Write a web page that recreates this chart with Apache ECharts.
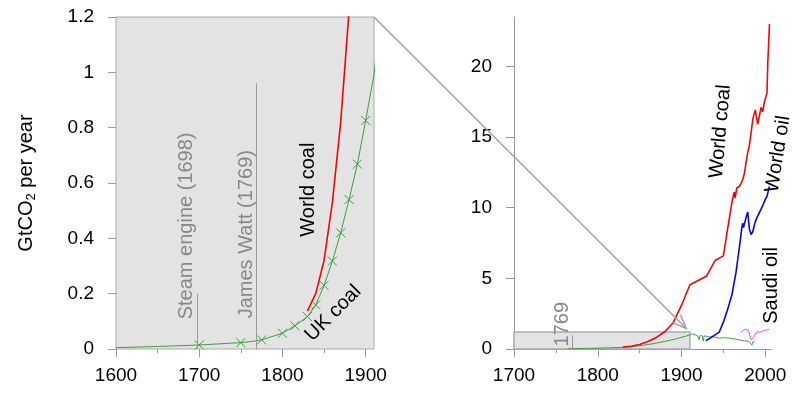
<!DOCTYPE html>
<html>
<head>
<meta charset="utf-8">
<title>Coal and oil CO2</title>
<script src="https://cdn.jsdelivr.net/npm/echarts@6/dist/echarts.min.js"></script>
<style>html,body{margin:0;background:#fff}#main{width:800px;height:399px}</style>
</head>
<body>
<div id="main"></div>
<script>
// GtCO2 per year
var ukYears = [1600,1650,1700,1750,1765,1775,1800,1815,1830,1840,1850,1860,1870,1880,1890,1900,1905,1910,1913,1915,1919,1920,1921,1922,1923,1925,1926,1927,1930,1935,1940,1945,1950,1955,1960,1965,1970,1975,1980,1982,1984,1985,1987];
var ukCoal  = [0.005,0.009,0.0145,0.023,0.028,0.033,0.057,0.084,0.117,0.159,0.23,0.318,0.42,0.54,0.668,0.826,0.91,0.99,1.08,1.0,0.93,0.97,0.66,0.95,1.0,0.92,0.55,0.93,0.9,0.84,0.85,0.76,0.8,0.79,0.74,0.7,0.63,0.57,0.56,0.52,0.27,0.5,0.5];
var ukMarked = [1700,1750,1775,1800,1815,1830,1840,1850,1860,1870,1880,1890,1900];

var coalYears = [1830,1840,1850,1860,1870,1880,1890,1900,1910,1920,1930,1940,1950,1955,1960,1962,1963,1964,1966,1969,1971,1973,1975,1977,1979,1981,1983,1985,1986,1988,1991,1992,1995,1997,1999,2001,2002,2003,2004,2005];
var worldCoal = [0.137,0.2,0.32,0.53,0.82,1.22,1.85,3.1,4.55,4.85,5.17,6.26,6.59,8.5,10.3,10.9,11.1,10.7,11.4,11.5,11.7,12.0,12.4,13.2,13.9,14.4,15.3,16.2,16.5,16.9,15.9,16.2,17.1,16.8,17.5,17.9,18.1,20.3,21.6,23.0];

var oilYears = [1929,1935,1940,1945,1950,1955,1960,1965,1967,1970,1972,1973,1974,1975,1977,1979,1981,1983,1985,1988,1990,1992,1995,1998,2000,2002,2004,2005];
var worldOil = [0.59,0.8,1.0,1.2,1.9,2.8,3.8,5.4,6.3,7.6,8.6,8.9,8.6,8.5,9.3,9.7,8.5,8.1,8.3,9.0,9.3,9.4,9.9,10.3,10.6,10.8,11.3,11.5];

var saudiYears = [1971,1973,1974,1976,1978,1980,1981,1982,1983,1985,1986,1988,1990,1992,1994,1996,1998,2000,2002,2004,2005];
var saudiOil = [1.15,1.3,1.25,1.4,1.35,1.3,1.2,0.85,0.65,0.6,0.8,1.05,1.2,1.25,1.2,1.25,1.3,1.28,1.35,1.38,1.4];

var eventYears = [1698, 1769];
var eventTops = [0.2, 0.96];

var leftXTicks = [1600,1700,1800,1900], leftXMinor = [1650,1750,1850];
var rightXTicks = [1700,1800,1900,2000], rightXMinor = [1750,1850,1950];
var rightYTicks = [0,5,10,15,20];

var FONT = 'Liberation Sans';
var GREY = '#999';

function pairs(xs, ys, from) {
  return xs.map(function (x, i) { return [x, ys[i]]; })
           .filter(function (p) { return from == null || p[0] >= from; });
}

var myChart = echarts.init(document.getElementById('main'));

function xAxisFor(grid, min, max, ticks, minor, line) {
  return [{
    gridIndex: grid, type: 'value', min: min, max: max,
    axisLine: {show: line, lineStyle: {color: GREY}},
    splitLine: {show: false},
    axisTick: {customValues: ticks, length: 8, lineStyle: {color: GREY}},
    axisLabel: {customValues: ticks, margin: 17, fontSize: 19, color: '#000', fontFamily: FONT,
                formatter: function (v) { return String(v); }}
  }, {
    gridIndex: grid, type: 'value', min: min, max: max, position: 'bottom',
    axisLine: {show: false}, splitLine: {show: false},
    axisTick: {customValues: minor, length: 4, lineStyle: {color: GREY}},
    axisLabel: {show: false}
  }];
}

var xMarker = 'path://M0,0L10,10M10,0L0,10';

var option = {
  animation: false,
  grid: [
    {left: 116, top: 17, width: 258, height: 332, show: true,
     backgroundColor: '#e3e3e3', borderColor: '#aaa', borderWidth: 1},
    {left: 514, top: 17, width: 258, height: 332}
  ],
  xAxis: xAxisFor(0, 1600, 1910, leftXTicks, leftXMinor, false)
    .concat(xAxisFor(1, 1700, 2008, rightXTicks, rightXMinor, true)),
  yAxis: [{
    gridIndex: 0, type: 'value', min: 0, max: 1.2, interval: 0.2,
    axisLine: {show: false}, splitLine: {show: false},
    axisTick: {length: 8, lineStyle: {color: GREY}},
    axisLabel: {margin: 22, fontSize: 19, color: '#000', fontFamily: FONT},
    name: '{a|GtCO}{s|2}{a| per year}', nameLocation: 'middle', nameRotate: 90, nameGap: 78,
    nameTextStyle: {fontSize: 20, fontFamily: FONT, color: '#000', rich: {
      a: {fontSize: 20, fontFamily: FONT, color: '#000', lineHeight: 24},
      s: {fontSize: 13, fontFamily: FONT, color: '#000', verticalAlign: 'bottom', lineHeight: 13}
    }}
  }, {
    gridIndex: 1, type: 'value', min: 0, max: 23.5,
    axisLine: {show: true, lineStyle: {color: GREY}}, splitLine: {show: false},
    axisTick: {customValues: rightYTicks, length: 8, lineStyle: {color: GREY}},
    axisLabel: {customValues: rightYTicks, margin: 22, fontSize: 19, color: '#000', fontFamily: FONT}
  }],
  series: [{
    name: 'UK coal', type: 'line', xAxisIndex: 0, yAxisIndex: 0,
    data: pairs(ukYears, ukCoal).map(function (p) {
      return ukMarked.indexOf(p[0]) >= 0 ? {value: p} : {value: p, symbol: 'none'};
    }),
    symbol: xMarker, symbolSize: 9, showAllSymbol: true,
    itemStyle: {color: 'transparent', borderColor: '#3d9e3d', borderWidth: 1},
    lineStyle: {color: '#3d9e3d', width: 1},
    markLine: {
      silent: true, symbol: 'none', label: {show: false},
      lineStyle: {color: GREY, type: 'solid', width: 1},
      data: eventYears.map(function (y, i) { return [{coord: [y, 0]}, {coord: [y, eventTops[i]]}]; })
    }
  }, {
    name: 'World coal', type: 'line', xAxisIndex: 0, yAxisIndex: 0,
    data: pairs(coalYears, worldCoal), symbol: 'none',
    lineStyle: {color: '#ff0000', width: 1.6}
  }, {
    name: 'UK coal', type: 'line', xAxisIndex: 2, yAxisIndex: 1,
    data: pairs(ukYears, ukCoal, 1765), symbol: 'none',
    lineStyle: {color: '#3d9e3d', width: 1},
    markArea: {
      silent: true,
      itemStyle: {color: '#e3e3e3', borderColor: '#aaa', borderWidth: 1.5},
      data: [[{coord: [1700, 0]}, {coord: [1910, 1.2]}]]
    },
    markLine: {
      silent: true, symbol: 'none', label: {show: false},
      lineStyle: {color: GREY, type: 'solid', width: 1},
      data: [[{coord: [eventYears[1], 0]}, {coord: [eventYears[1], eventTops[1]]}]]
    }
  }, {
    name: 'World coal', type: 'line', xAxisIndex: 2, yAxisIndex: 1,
    data: pairs(coalYears, worldCoal), symbol: 'none',
    lineStyle: {color: '#ff0000', width: 1.6}
  }, {
    name: 'World oil', type: 'line', xAxisIndex: 2, yAxisIndex: 1,
    data: pairs(oilYears, worldOil), symbol: 'none',
    lineStyle: {color: '#0000ff', width: 1.6}
  }, {
    name: 'Saudi oil', type: 'line', xAxisIndex: 2, yAxisIndex: 1,
    data: pairs(saudiYears, saudiOil), symbol: 'none',
    lineStyle: {color: '#ff44ff', width: 1}
  }]
};
myChart.setOption(option);

// text labels, placed by their centre in data coordinates
var notes = [
  {text: 'Steam engine (1698)', s: 0, at: [1685, 0.445], rot: 90, color: '#888'},
  {text: 'James Watt (1769)', s: 0, at: [1757, 0.415], rot: 90, color: '#888'},
  {text: 'World coal', s: 0, at: [1831.5, 0.576], rot: 90, color: '#000'},
  {text: 'UK coal', s: 0, at: [1861, 0.129], rot: 45, color: '#000'},
  {text: '1769', s: 2, at: [1757.5, 1.76], rot: 90, color: '#888'},
  {text: 'World coal', s: 2, at: [1946.4, 15.4], rot: 85, color: '#000'},
  {text: 'World oil', s: 2, at: [2015.2, 13.8], rot: 81, color: '#000'},
  {text: 'Saudi oil', s: 2, at: [2007.3, 4.5], rot: 90, color: '#000'}
];

var graphics = notes.map(function (n) {
  var p = myChart.convertToPixel({seriesIndex: n.s}, n.at);
  return {
    type: 'text', x: p[0], y: p[1], rotation: n.rot * Math.PI / 180, silent: true, z: 50,
    style: {text: n.text, fill: n.color, fontSize: 20, fontFamily: FONT, align: 'center', verticalAlign: 'middle'}
  };
});

// zoom connector from the left panel corner to the box in the right panel
var p1 = myChart.convertToPixel({seriesIndex: 0}, [1910, 1.2]);
var p2 = myChart.convertToPixel({seriesIndex: 2}, [1910, 1.2]);
var dx = p2[0] - p1[0], dy = p2[1] - p1[1], len = Math.sqrt(dx * dx + dy * dy);
var ux = dx / len, uy = dy / len;
var tip = [p2[0] - 5 * ux, p2[1] - 5 * uy];
function arm(sign) {
  var a = Math.atan2(uy, ux) + Math.PI + sign * 0.38;
  return [tip[0] + 15 * Math.cos(a), tip[1] + 15 * Math.sin(a)];
}
var connStyle = {stroke: '#a0a0a0', lineWidth: 1.5, fill: null};
graphics.push({type: 'line', silent: true, z: 40,
  shape: {x1: p1[0], y1: p1[1], x2: tip[0], y2: tip[1]}, style: connStyle});
graphics.push({type: 'polyline', silent: true, z: 40,
  shape: {points: [arm(1), tip, arm(-1)]}, style: connStyle});

myChart.setOption({graphic: graphics});
</script>
</body>
</html>
